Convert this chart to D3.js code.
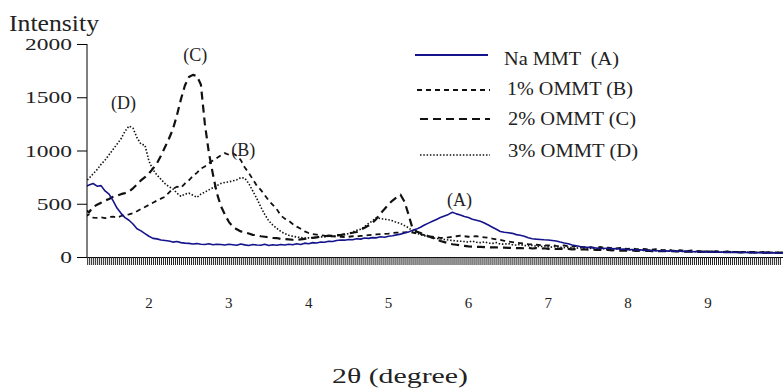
<!DOCTYPE html>
<html>
<head>
<meta charset="utf-8">
<script src="https://cdn.jsdelivr.net/npm/d3@7"></script>
<style>
  body { margin: 0; background: #fff; }
  svg text { font-family: "Liberation Serif", "Times New Roman", Times, serif; fill: #222; }
</style>
</head>
<body>
<div id="vis-container"></div>
<script>
// 2theta grid, 0.05 degree steps from 1.20 to 9.95
const theta = d3.range(176).map(i => +(1.2 + i * 0.05).toFixed(2));

// Na MMT (A)
const naMMT = [
  660,675,690,665,670,620,590,530,460,410,
  370,345,310,265,245,220,195,175,170,160,
  155,150,140,145,135,130,128,122,126,120,
  118,124,115,120,118,112,120,115,110,122,
  114,108,118,112,110,120,108,115,110,118,
  112,120,115,125,118,130,125,135,132,140,
  138,148,145,155,160,158,165,162,172,168,
  178,175,182,180,190,186,195,200,208,215,
  225,235,250,262,280,300,318,335,352,370,
  385,400,420,405,395,380,370,355,345,335,
  320,300,280,260,240,232,228,222,210,205,
  195,180,172,168,165,162,160,155,150,140,
  132,125,112,105,98,92,90,88,85,82,
  80,84,76,79,72,75,68,71,65,68,
  62,65,58,61,57,60,55,58,53,56,
  51,54,49,52,47,50,46,49,45,47,
  44,47,43,45,42,44,41,43,40,42,
  39,41,39,40,38,39
];

// 1% OMMT (B)
const ommt1 = [
  380,400,370,368,372,365,375,378,370,385,
  395,400,412,430,450,470,490,510,530,548,
  565,605,640,660,650,690,720,760,790,830,
  850,880,905,930,955,975,960,975,950,910,
  840,790,730,670,630,580,530,490,450,390,
  360,340,310,285,265,240,225,215,210,205,
  200,198,195,192,190,188,190,195,192,198,
  200,205,210,212,215,218,220,225,228,230,
  232,235,230,222,215,205,195,190,185,180,
  178,185,190,195,200,195,190,192,195,188,
  185,180,172,165,160,152,145,140,135,130,
  125,120,118,115,112,110,108,112,105,102,
  108,100,98,104,95,92,98,90,88,94,
  85,88,82,80,86,78,76,82,74,72,
  76,70,68,73,66,65,69,62,60,64,
  58,57,61,55,54,58,52,51,55,50,
  49,53,48,47,50,46,45,49,44,44,
  47,43,42,45,41,42
];

// 2% OMMT (C)
const ommt2 = [
  441,420,470,490,510,530,545,565,575,590,
  600,615,645,680,720,750,785,830,880,950,
  1030,1110,1200,1330,1480,1610,1690,1710,1700,1620,
  1250,980,780,600,480,400,330,285,260,240,
  232,220,208,205,195,190,185,180,178,170,
  168,165,162,160,165,170,175,180,185,190,
  195,200,198,205,206,215,220,228,235,255,
  275,295,320,360,410,450,495,530,560,585,
  520,400,270,240,225,210,195,180,165,150,
  140,130,120,115,110,105,100,98,95,95,
  93,92,90,90,88,88,86,85,84,83,
  82,86,80,84,78,82,76,80,75,78,
  74,77,72,75,70,73,68,71,66,69,
  64,67,62,65,60,63,58,61,57,60,
  56,59,55,58,54,56,53,55,52,54,
  51,53,50,52,49,51,48,50,47,49,
  46,48,45,47,44,46,43,45,42,44,
  42,43,41,42,40,41
];

// 3% OMMT (D)
const ommt3 = [
  700,740,780,820,870,910,960,1010,1060,1110,
  1180,1230,1210,1120,1060,1050,900,820,770,730,
  690,660,640,600,570,590,600,580,560,590,
  610,630,650,670,690,700,705,715,725,745,
  740,690,620,550,470,400,340,300,270,240,
  220,205,195,188,182,178,180,182,185,188,
  190,195,192,198,205,210,220,235,250,260,
  285,315,340,370,360,355,350,340,325,315,
  295,275,245,225,210,200,190,180,175,170,
  165,160,155,150,148,145,140,150,138,135,
  142,130,128,135,122,120,126,115,112,118,
  108,105,110,100,98,104,95,93,99,90,
  88,93,85,83,88,80,78,84,76,74,
  79,72,70,75,68,67,71,64,63,67,
  61,60,64,58,57,61,55,54,58,52,
  51,55,50,49,53,48,47,51,46,46,
  49,45,44,47,43,43,46,42,41,44,
  40,40,43,39,39,41
];

const seriesNames = ["Na MMT  (A)", "1% OMMT (B)", "2% OMMT (C)", "3% OMMT (D)"];
const yTicks = [0, 500, 1000, 1500, 2000];
const xLabels = [2, 3, 4, 5, 6, 7, 8, 9];
const peakLabels = [
  { text: "(D)", x: 1.68, y: 1425 },
  { text: "(C)", x: 2.58, y: 1880 },
  { text: "(B)", x: 3.18, y: 985 },
  { text: "(A)", x: 5.89, y: 515 }
];

const width = 783;
const height = 389;

const x = d3.scaleLinear().domain([1.224, 9.94]).range([87, 783]);
const y = d3.scaleLinear().domain([0, 2000]).range([257, 44]);

const svg = d3.select("#vis-container")
  .append("svg")
  .attr("width", width)
  .attr("height", height);

svg.append("clipPath").attr("id", "plot-clip")
  .append("rect")
  .attr("x", 87).attr("y", 0)
  .attr("width", 696).attr("height", 258);

const styles = [
  { stroke: "#14148c", width: 1.6, dash: null },
  { stroke: "#111", width: 1.8, dash: "5,4" },
  { stroke: "#111", width: 2.2, dash: "8,5" },
  { stroke: "#111", width: 1.6, dash: "1.5,1.8" }
];

const seriesData = [naMMT, ommt1, ommt2, ommt3];

const line = d3.line()
  .x((d, i) => x(theta[i]))
  .y(d => y(d));

const g = svg.append("g").attr("clip-path", "url(#plot-clip)");

// draw back to front: dotted, long dash, short dash, solid
[3, 2, 1, 0].forEach(k => {
  g.append("path")
    .datum(seriesData[k])
    .attr("fill", "none")
    .attr("stroke", styles[k].stroke)
    .attr("stroke-width", styles[k].width)
    .attr("stroke-dasharray", styles[k].dash)
    .attr("stroke-linejoin", "round")
    .attr("d", line);
});

// y axis
const yAxis = svg.append("g")
  .attr("transform", "translate(87,0)")
  .call(d3.axisLeft(y).tickValues(yTicks).tickFormat(d3.format("d")).tickSize(10).tickSizeOuter(0));
yAxis.attr("font-family", null).attr("font-size", null);
yAxis.select(".domain").attr("stroke", "#000").attr("d", "M0,44V257");
yAxis.selectAll(".tick line").attr("stroke", "#000");
yAxis.selectAll(".tick text")
  .attr("x", -10.6)
  .attr("dy", "0.34em")
  .attr("transform", "scale(1.42,1)")
  .style("font-size", "16.5px");

// x axis with dense minor ticks
const minorTicks = d3.range(0, 348).map(i => 1.226 + i * 0.025);
const xAxis = svg.append("g")
  .attr("transform", "translate(0,257)")
  .call(d3.axisBottom(x).tickValues(minorTicks).tickSize(8).tickSizeOuter(0).tickFormat(""));
xAxis.select(".domain").attr("stroke", "#000");
xAxis.selectAll(".tick line").attr("stroke", "#222").attr("stroke-width", 1);

svg.append("g")
  .selectAll("text")
  .data(xLabels)
  .join("text")
  .attr("x", d => x(d))
  .attr("y", 308)
  .attr("text-anchor", "middle")
  .style("font-size", "15px")
  .text(d => d);

// axis titles
svg.append("text")
  .attr("x", 9).attr("y", 31)
  .attr("textLength", 90).attr("lengthAdjust", "spacingAndGlyphs")
  .style("font-size", "22.5px")
  .text("Intensity");

svg.append("text")
  .attr("x", 332).attr("y", 383)
  .attr("textLength", 136).attr("lengthAdjust", "spacingAndGlyphs")
  .style("font-size", "20px")
  .text("2θ (degree)");

// peak labels
svg.append("g")
  .selectAll("text")
  .data(peakLabels)
  .join("text")
  .attr("x", d => x(d.x))
  .attr("y", d => y(d.y))
  .attr("text-anchor", "middle")
  .attr("dominant-baseline", "middle")
  .style("font-size", "18px")
  .text(d => d.text);

// legend
const legendRows = [
  { lineY: 55, textY: 65, x1: 415, x2: 488, tx: 504, tw: 115 },
  { lineY: 90, textY: 95, x1: 417, x2: 490, tx: 507, tw: 126 },
  { lineY: 119, textY: 125, x1: 420, x2: 490, tx: 508, tw: 128 },
  { lineY: 155, textY: 157, x1: 420, x2: 490, tx: 508, tw: 130 }
];
const legend = svg.append("g");
legendRows.forEach((r, k) => {
  legend.append("line")
    .attr("x1", r.x1).attr("x2", r.x2)
    .attr("y1", r.lineY).attr("y2", r.lineY)
    .attr("stroke", styles[k].stroke)
    .attr("stroke-width", k === 3 ? 1.4 : 2)
    .attr("stroke-dasharray", styles[k].dash);
  legend.append("text")
    .attr("x", r.tx).attr("y", r.textY)
    .attr("textLength", r.tw).attr("lengthAdjust", "spacingAndGlyphs")
    .style("font-size", "18px")
    .style("white-space", "pre")
    .text(seriesNames[k]);
});
</script>
</body>
</html>
